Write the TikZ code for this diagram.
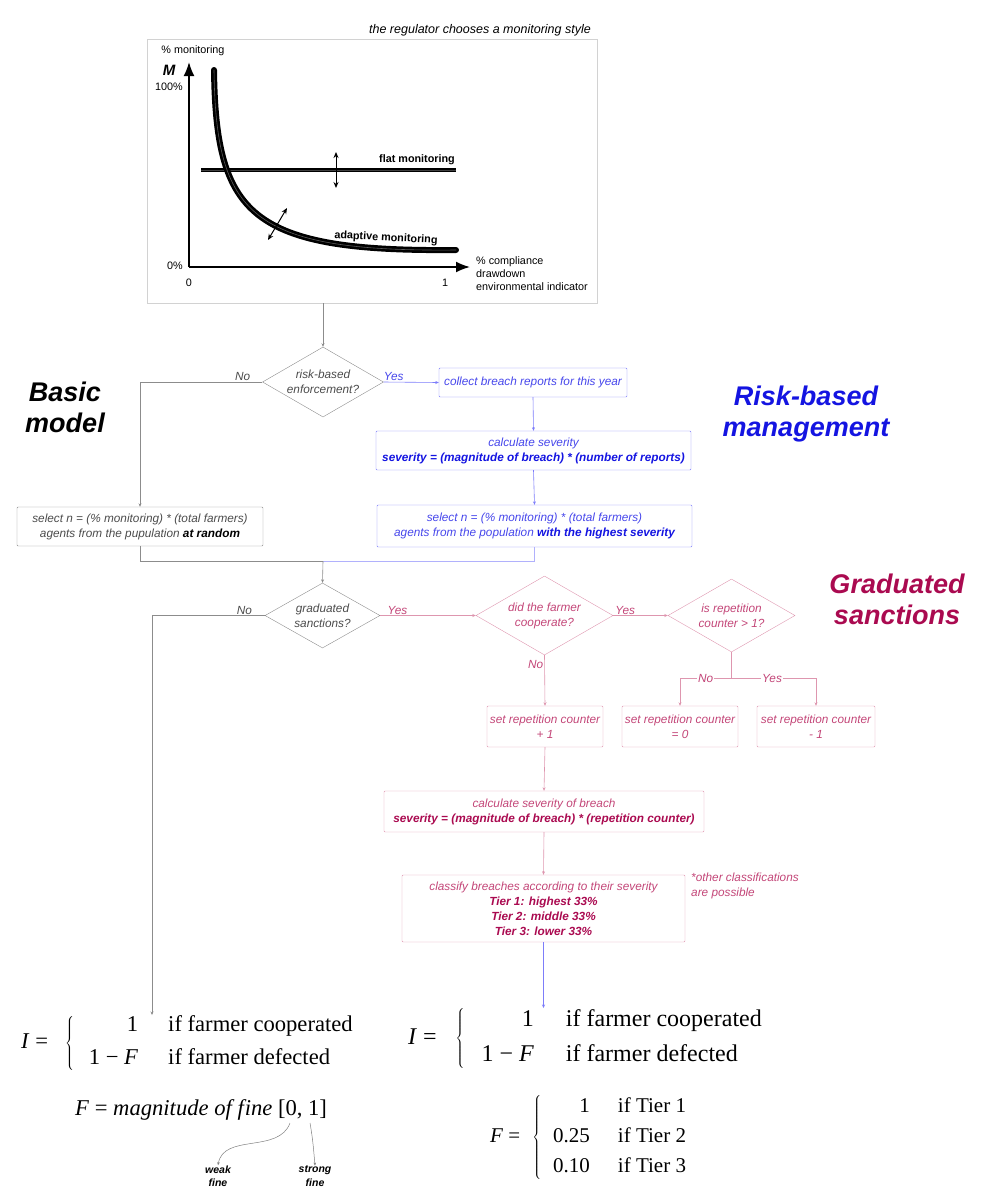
\documentclass[tikz,border=0pt]{standalone}
\usepackage{fontspec}
\setmainfont{Liberation Serif}
\setsansfont{Liberation Sans}
\usetikzlibrary{shapes.geometric,arrows.meta,positioning}

\definecolor{basicline}{RGB}{140,140,140}
\definecolor{basictext}{RGB}{75,75,75}
\definecolor{riskline}{RGB}{125,125,250}
\definecolor{risktext}{RGB}{70,70,235}
\definecolor{riskdark}{RGB}{20,20,225}
\definecolor{gradline}{RGB}{222,150,175}
\definecolor{gradtext}{RGB}{195,70,120}
\definecolor{graddark}{RGB}{170,10,80}

\tikzset{
  flowfont/.style={font=\sffamily\itshape\fontsize{11.8}{15}\selectfont},
  flowbox/.style={draw, rectangle, rounded corners=1pt, align=center, inner sep=2pt, flowfont},
  decision/.style={draw, diamond, aspect=1.75, inner sep=-4pt, align=center, flowfont},
  basic/.style={draw=basicline, text=basictext},
  risk/.style={draw=riskline, text=risktext},
  grad/.style={draw=gradline, text=gradtext},
  flowarrow/.style={line width=0.6pt, -{Stealth[length=3.5pt,width=3pt]}},
  answer/.style={flowfont, inner sep=1pt},
  bigtitle/.style={font=\sffamily\bfseries\itshape\fontsize{27}{31}\selectfont, align=center},
  chartlabel/.style={font=\sffamily\fontsize{10.8}{13}\selectfont, inner sep=0pt},
  formula/.style={font=\fontsize{22.6}{26}\selectfont, inner sep=0pt},
  finelabel/.style={font=\sffamily\bfseries\itshape\fontsize{10.5}{13.5}\selectfont, align=center, inner sep=0pt}
}

\begin{document}
\begin{tikzpicture}[x=1pt,y=-1pt]
\useasboundingbox (0,0) rectangle (991,1200);

%monitoring style chart
\node[font=\sffamily\itshape\fontsize{12.5}{14}\selectfont, anchor=east, inner sep=0pt] (chartcap) at (591,30) {the regulator chooses a monitoring style};
\node[draw=gray!35, minimum width=450pt, minimum height=264pt, inner sep=0pt] (chart) at (372,171) {};
\draw[line width=1.8pt, -{Latex[length=14pt,width=11pt]}] (189,267) -- (189,62);
\draw[line width=1.8pt, -{Latex[length=14pt,width=11pt]}] (189,267) -- (470,267);
\node[chartlabel] (ylabel) at (193,51) {\% monitoring};
\node[font=\sffamily\bfseries\itshape\fontsize{15}{15}\selectfont, inner sep=0pt] (mlabel) at (169,70) {M};
\node[chartlabel, anchor=east] (top) at (183,87) {100\%};
\node[chartlabel, anchor=east] (bottom) at (183,266) {0\%};
\node[chartlabel] (xzero) at (189,283) {0};
\node[chartlabel] (xone) at (445,283) {1};
\node[chartlabel, anchor=north west, align=left] (xlabel) at (476,256) {\% compliance\\drawdown\\environmental indicator};

%flat and adaptive monitoring
\draw[line width=1.7pt, double=black!75, double distance=0.6pt] (201,170) -- (456,170);
\draw[line width=1pt, {Stealth[length=6pt,width=5pt]}-{Stealth[length=6pt,width=5pt]}] (336,152) -- (336,188);
\node[chartlabel, font=\sffamily\bfseries\fontsize{10.8}{13}\selectfont, anchor=south east] (flatlabel) at (455,165) {flat monitoring};
\draw[line width=2.7pt, double=black!65, double distance=0.6pt, line cap=round] (214,70) .. controls (216,215) and (250,252) .. (456,250);
\draw[line width=1pt, {Stealth[length=6pt,width=5pt]}-{Stealth[length=6pt,width=5pt]}] (268,240) -- (287,208);
\node[chartlabel, font=\sffamily\bfseries\fontsize{10.8}{13}\selectfont, rotate=-3] (adaptlabel) at (386,238) {adaptive monitoring};

%titles
\node[bigtitle] (basictitle) at (65,407) {Basic\\model};
\node[bigtitle, text=riskdark] (risktitle) at (806,414) {Risk-based\\management};
\node[bigtitle, text=graddark] (gradtitle) at (897,599) {Graduated\\sanctions};

%basic and risk-based selection
\node[decision, basic, minimum width=121pt, minimum height=70pt] (riskq) at (323,382) {risk-based\\enforcement?};
\node[flowbox, risk, minimum width=188pt, minimum height=29pt] (collect) at (533,382.5) {collect breach reports for this year};
\node[flowbox, risk, minimum width=315pt, minimum height=39pt] (calcsev) at (533.5,450.5) {calculate severity\\{\bfseries\color{riskdark}severity = (magnitude of breach) * (number of reports)}};
\node[flowbox, risk, minimum width=315pt, minimum height=42pt] (selrisk) at (534.5,526) {select n = (\% monitoring) * (total farmers)\\agents from the population {\bfseries\color{riskdark}with the highest severity}};
\node[flowbox, basic, minimum width=246pt, minimum height=39pt] (selbasic) at (140,526.5) {select n = (\% monitoring) * (total farmers)\\agents from the pupulation {\bfseries\color{black}at random}};
\coordinate (merge) at (323,561);

\draw[flowarrow, basicline] (chart.south -| riskq.north) -- (riskq.north);
\draw[flowarrow, basicline] (riskq.west) -| node[answer, pos=0.08, above, text=basictext] {No} (selbasic.north);
\draw[flowarrow, riskline] (riskq.east) -- node[answer, pos=0.18, above, text=risktext] {Yes} (collect.west);
\draw[flowarrow, riskline] (collect.south) -- (calcsev.north);
\draw[flowarrow, riskline] (calcsev.south) -- (selrisk.north);
\draw[line width=0.6pt, basicline] (selbasic.south) |- (merge);
\draw[line width=0.6pt, riskline!60] (selrisk.south) |- (merge);

%graduated sanctions
\node[decision, basic, minimum width=115pt, minimum height=65pt] (gradq) at (322.5,615.5) {graduated\\sanctions?};
\node[decision, grad, minimum width=137pt, minimum height=79pt] (coopq) at (544.5,615.5) {did the farmer\\cooperate?};
\node[decision, grad, minimum width=127pt, minimum height=73pt] (repq) at (731.5,615.5) {is repetition\\counter > 1?};
\node[flowbox, grad, minimum width=116pt, minimum height=41pt] (plusone) at (545,726.5) {set repetition counter\\+ 1};
\node[flowbox, grad, minimum width=116pt, minimum height=41pt] (setzero) at (680,726.5) {set repetition counter\\= 0};
\node[flowbox, grad, minimum width=118pt, minimum height=41pt] (minusone) at (816,726.5) {set repetition counter\\- 1};
\node[flowbox, grad, minimum width=320pt, minimum height=41pt] (calcbreach) at (544,811.5) {calculate severity of breach\\{\bfseries\color{graddark}severity = (magnitude of breach) * (repetition counter)}};
\node[flowbox, grad, minimum width=283pt, minimum height=67pt] (classify) at (543.5,908.5) {classify breaches according to their severity\\{\bfseries\color{graddark}Tier 1: highest 33\%}\\{\bfseries\color{graddark}Tier 2: middle 33\%}\\{\bfseries\color{graddark}Tier 3: lower 33\%}};
\node[flowfont, text=gradtext, anchor=north west, align=left, inner sep=0pt] (classnote) at (691,873) {*other classifications\\are possible};
\coordinate (split) at (731.5,678);
\coordinate (basicend) at (152,1015);
\coordinate (gradend) at (543.5,1008);

\draw[flowarrow, basicline] (merge) -- (gradq.north);
\draw[flowarrow, basicline] (gradq.west) -| node[answer, pos=0.09, above, text=basictext] {No} (basicend);
\draw[flowarrow, gradline] (gradq.east) -- node[answer, pos=0.18, above, text=gradtext] {Yes} (coopq.west);
\draw[flowarrow, gradline] (coopq.east) -- node[answer, pos=0.22, above, text=gradtext] {Yes} (repq.west);
\draw[flowarrow, gradline] (coopq.south) -- node[answer, pos=0.18, left, text=gradtext] {No} (plusone.north);
\draw[line width=0.6pt, gradline] (repq.south) -- (split);
\draw[flowarrow, gradline] (split) -| node[answer, pos=0.25, fill=white, text=gradtext] {No} (setzero.north);
\draw[flowarrow, gradline] (split) -| node[answer, pos=0.24, fill=white, text=gradtext] {Yes} (minusone.north);
\draw[flowarrow, gradline] (plusone.south) -- (calcbreach.north);
\draw[flowarrow, gradline] (calcbreach.south) -- (classify.north);
\draw[flowarrow, riskline] (classify.south) -- (gradend);

%income formulas
\node[formula, anchor=west] (incomebasic) at (21,1043) {\textit{I} =\hspace{17pt}$\left\{\begin{tabular}{@{\hspace{15pt}}r@{\hspace{30pt}}l@{}}1 & if farmer cooperated\\[7pt]1 − \textit{F} & if farmer defected\end{tabular}\right.$};
\node[formula, anchor=west] (finedef) at (75,1110) {\textit{F} = \textit{magnitude of f\kern1pt ine} [0, 1]};
\coordinate (weakpt) at (290,1123);
\coordinate (strongpt) at (310,1123);
\node[finelabel] (weak) at (218,1176) {weak\\fine};
\node[finelabel] (strong) at (315,1176) {strong\\fine};
\draw[gray, line width=0.5pt, -{Stealth[length=3pt,width=2.5pt]}] (weakpt) to[out=-110, in=80] (weak.north);
\draw[gray, line width=0.5pt, -{Stealth[length=3pt,width=2.5pt]}] (strongpt) to[out=-80, in=95] (strong.north);

\node[formula, font=\fontsize{24}{28}\selectfont, anchor=west] (incomegrad) at (408,1038) {\textit{I} =\hspace{19pt}$\left\{\begin{tabular}{@{\hspace{17pt}}r@{\hspace{32pt}}l@{}}1 & if farmer cooperated\\[7pt]1 − \textit{F} & if farmer defected\end{tabular}\right.$};
\node[formula, font=\fontsize{21}{25}\selectfont, anchor=west] (finegrad) at (490,1137) {\textit{F} =\hspace{12pt}$\left\{\begin{tabular}{@{\hspace{12pt}}r@{\hspace{28pt}}l@{}}1 & if Tier 1\\[5pt]0.25 & if Tier 2\\[5pt]0.10 & if Tier 3\end{tabular}\right.$};
\end{tikzpicture}
\end{document}
